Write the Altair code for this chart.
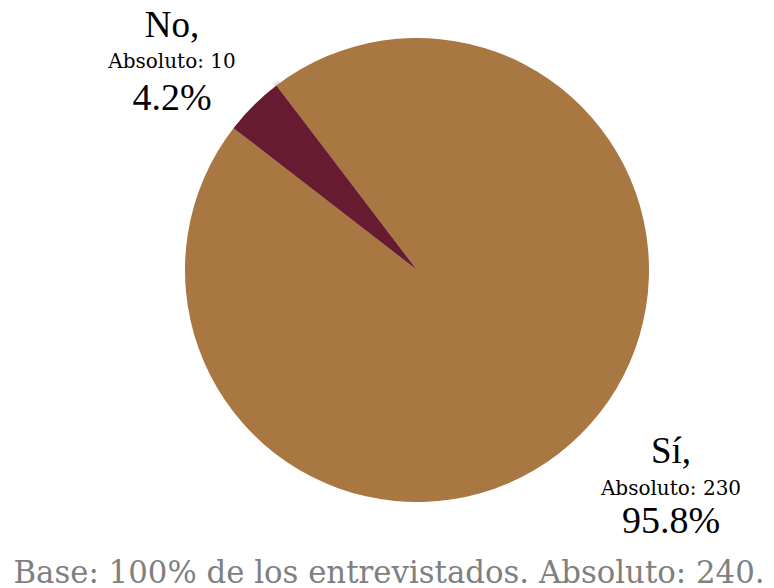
import math
import altair as alt
import pandas as pd

categorias = ["Sí", "No"]
absolutos = [230, 10]
porcentajes = ["95.8%", "4.2%"]
colores = ["#A87742", "#661B31"]
pie_texto = "Base: 100% de los entrevistados. Absoluto: 240."

df = pd.DataFrame({
    "cat": categorias,
    "abs": absolutos,
    "orden": [0, 1],
})

start = 2 * math.pi - math.radians(37.3)
BIG = "Liberation Serif"
SMALL = "DejaVu Serif"
cx, cy, R = 409, 262, 232

shadow = alt.Chart(pd.DataFrame({"v": [1]})).mark_arc(
    radius=R + 4, color="#000000", opacity=0.06
).encode(theta=alt.Theta("v:Q"), x=alt.value(cx - 2), y=alt.value(cy + 1))
shadow2 = alt.Chart(pd.DataFrame({"v": [1]})).mark_arc(
    radius=R + 2, color="#000000", opacity=0.08
).encode(theta=alt.Theta("v:Q"), x=alt.value(cx - 1), y=alt.value(cy + 1))

pie = alt.Chart(df).mark_arc(radius=R, strokeWidth=0).encode(
    theta=alt.Theta("abs:Q", stack=True,
                    scale=alt.Scale(range=[start, start + 2 * math.pi])),
    order=alt.Order("orden:Q"),
    color=alt.Color("cat:N", scale=alt.Scale(domain=categorias, range=colores), legend=None),
    x=alt.value(cx), y=alt.value(cy),
)

def label(text, x, y, size, font, color="#000000"):
    return alt.Chart(pd.DataFrame({"t": [text]})).mark_text(
        font=font, fontSize=size, color=color, align="center", baseline="alphabetic"
    ).encode(text="t:N", x=alt.value(x), y=alt.value(y))

labels = [
    label(categorias[1] + ",", 164, 29, 37, BIG),
    label("Absoluto: " + str(absolutos[1]), 164, 60, 20, SMALL),
    label(porcentajes[1], 164, 102, 38, BIG),
    label(categorias[0] + ",", 663, 455, 37, BIG),
    label("Absoluto: " + str(absolutos[0]), 663, 487, 20, SMALL),
    label(porcentajes[0], 663, 525, 38, BIG),
    label(pie_texto, 381, 575, 30.8, SMALL, "#808080"),
]

chart = alt.layer(shadow, shadow2, pie, *labels).properties(
    width=758, height=580, autosize=alt.AutoSizeParams(type="none"), padding=0
).configure_view(stroke=None)

chart.save("out.html", embed_options={"renderer": "svg", "actions": False})
